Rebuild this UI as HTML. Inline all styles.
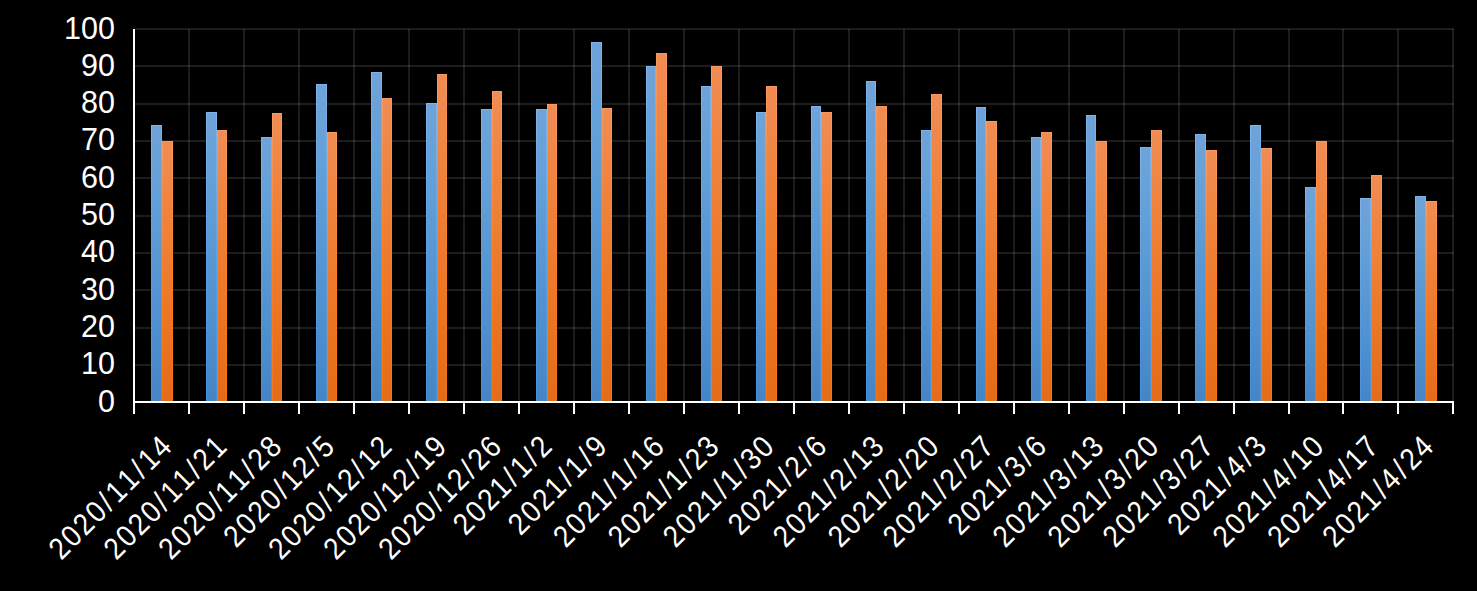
<!DOCTYPE html><html><head><meta charset="utf-8"><style>
html,body{margin:0;padding:0;background:#000;overflow:hidden;}
svg{display:block;}
text{font-family:"Liberation Sans",sans-serif;fill:#fff;}
</style></head><body>
<svg width="1477" height="591" viewBox="0 0 1477 591">
<defs><linearGradient id="gb" x1="0" y1="0" x2="0" y2="1"><stop offset="0" stop-color="#6fa3d8"/><stop offset="0.25" stop-color="#64a0d8"/><stop offset="0.72" stop-color="#4f90cf"/><stop offset="1" stop-color="#4585c5"/></linearGradient><linearGradient id="go" x1="0" y1="0" x2="0" y2="1"><stop offset="0" stop-color="#f08c54"/><stop offset="0.25" stop-color="#f0843e"/><stop offset="0.72" stop-color="#eb7421"/><stop offset="1" stop-color="#e46c19"/></linearGradient><linearGradient id="gbb" x1="0" y1="0" x2="0" y2="1"><stop offset="0" stop-color="#7eb4ec"/><stop offset="0.5" stop-color="#5aa0e4"/><stop offset="1" stop-color="#4690da"/></linearGradient><linearGradient id="gob" x1="0" y1="0" x2="0" y2="1"><stop offset="0" stop-color="#f89a60"/><stop offset="0.5" stop-color="#f98026"/><stop offset="1" stop-color="#f27418"/></linearGradient></defs>
<rect x="0" y="0" width="1477" height="591" fill="#000"/>
<g fill="#fff" fill-opacity="0.11"><rect x="135" y="364" width="1319" height="2"/><rect x="135" y="327" width="1319" height="2"/><rect x="135" y="289" width="1319" height="2"/><rect x="135" y="252" width="1319" height="2"/><rect x="135" y="215" width="1319" height="2"/><rect x="135" y="177" width="1319" height="2"/><rect x="135" y="140" width="1319" height="2"/><rect x="135" y="103" width="1319" height="2"/><rect x="135" y="65" width="1319" height="2"/><rect x="135" y="28" width="1319" height="2"/><rect x="188" y="29" width="2" height="373"/><rect x="243" y="29" width="2" height="373"/><rect x="298" y="29" width="2" height="373"/><rect x="353" y="29" width="2" height="373"/><rect x="408" y="29" width="2" height="373"/><rect x="463" y="29" width="2" height="373"/><rect x="518" y="29" width="2" height="373"/><rect x="573" y="29" width="2" height="373"/><rect x="628" y="29" width="2" height="373"/><rect x="683" y="29" width="2" height="373"/><rect x="738" y="29" width="2" height="373"/><rect x="793" y="29" width="2" height="373"/><rect x="848" y="29" width="2" height="373"/><rect x="903" y="29" width="2" height="373"/><rect x="958" y="29" width="2" height="373"/><rect x="1013" y="29" width="2" height="373"/><rect x="1068" y="29" width="2" height="373"/><rect x="1123" y="29" width="2" height="373"/><rect x="1178" y="29" width="2" height="373"/><rect x="1233" y="29" width="2" height="373"/><rect x="1288" y="29" width="2" height="373"/><rect x="1342" y="29" width="2" height="373"/><rect x="1397" y="29" width="2" height="373"/><rect x="1452" y="29" width="2" height="373"/></g>
<g><rect x="151" y="125" width="11" height="277" fill="url(#gbb)"/><rect x="152" y="126" width="9" height="276" fill="url(#gb)"/><rect x="162" y="141" width="11" height="261" fill="url(#gob)"/><rect x="163" y="142" width="9" height="260" fill="url(#go)"/><rect x="206" y="112" width="11" height="290" fill="url(#gbb)"/><rect x="207" y="113" width="9" height="289" fill="url(#gb)"/><rect x="217" y="130" width="10" height="272" fill="url(#gob)"/><rect x="218" y="131" width="8" height="271" fill="url(#go)"/><rect x="261" y="137" width="11" height="265" fill="url(#gbb)"/><rect x="262" y="138" width="9" height="264" fill="url(#gb)"/><rect x="272" y="113" width="10" height="289" fill="url(#gob)"/><rect x="273" y="114" width="8" height="288" fill="url(#go)"/><rect x="316" y="84" width="11" height="318" fill="url(#gbb)"/><rect x="317" y="85" width="9" height="317" fill="url(#gb)"/><rect x="327" y="132" width="10" height="270" fill="url(#gob)"/><rect x="328" y="133" width="8" height="269" fill="url(#go)"/><rect x="371" y="72" width="11" height="330" fill="url(#gbb)"/><rect x="372" y="73" width="9" height="329" fill="url(#gb)"/><rect x="382" y="98" width="10" height="304" fill="url(#gob)"/><rect x="383" y="99" width="8" height="303" fill="url(#go)"/><rect x="426" y="103" width="11" height="299" fill="url(#gbb)"/><rect x="427" y="104" width="9" height="298" fill="url(#gb)"/><rect x="437" y="74" width="10" height="328" fill="url(#gob)"/><rect x="438" y="75" width="8" height="327" fill="url(#go)"/><rect x="481" y="109" width="11" height="293" fill="url(#gbb)"/><rect x="482" y="110" width="9" height="292" fill="url(#gb)"/><rect x="492" y="91" width="10" height="311" fill="url(#gob)"/><rect x="493" y="92" width="8" height="310" fill="url(#go)"/><rect x="536" y="109" width="11" height="293" fill="url(#gbb)"/><rect x="537" y="110" width="9" height="292" fill="url(#gb)"/><rect x="547" y="104" width="10" height="298" fill="url(#gob)"/><rect x="548" y="105" width="8" height="297" fill="url(#go)"/><rect x="591" y="42" width="11" height="360" fill="url(#gbb)"/><rect x="592" y="43" width="9" height="359" fill="url(#gb)"/><rect x="602" y="108" width="10" height="294" fill="url(#gob)"/><rect x="603" y="109" width="8" height="293" fill="url(#go)"/><rect x="646" y="66" width="10" height="336" fill="url(#gbb)"/><rect x="647" y="67" width="8" height="335" fill="url(#gb)"/><rect x="656" y="53" width="11" height="349" fill="url(#gob)"/><rect x="657" y="54" width="9" height="348" fill="url(#go)"/><rect x="701" y="86" width="10" height="316" fill="url(#gbb)"/><rect x="702" y="87" width="8" height="315" fill="url(#gb)"/><rect x="711" y="66" width="11" height="336" fill="url(#gob)"/><rect x="712" y="67" width="9" height="335" fill="url(#go)"/><rect x="756" y="112" width="10" height="290" fill="url(#gbb)"/><rect x="757" y="113" width="8" height="289" fill="url(#gb)"/><rect x="766" y="86" width="11" height="316" fill="url(#gob)"/><rect x="767" y="87" width="9" height="315" fill="url(#go)"/><rect x="811" y="106" width="10" height="296" fill="url(#gbb)"/><rect x="812" y="107" width="8" height="295" fill="url(#gb)"/><rect x="821" y="112" width="11" height="290" fill="url(#gob)"/><rect x="822" y="113" width="9" height="289" fill="url(#go)"/><rect x="866" y="81" width="10" height="321" fill="url(#gbb)"/><rect x="867" y="82" width="8" height="320" fill="url(#gb)"/><rect x="876" y="106" width="11" height="296" fill="url(#gob)"/><rect x="877" y="107" width="9" height="295" fill="url(#go)"/><rect x="921" y="130" width="10" height="272" fill="url(#gbb)"/><rect x="922" y="131" width="8" height="271" fill="url(#gb)"/><rect x="931" y="94" width="11" height="308" fill="url(#gob)"/><rect x="932" y="95" width="9" height="307" fill="url(#go)"/><rect x="976" y="107" width="10" height="295" fill="url(#gbb)"/><rect x="977" y="108" width="8" height="294" fill="url(#gb)"/><rect x="986" y="121" width="11" height="281" fill="url(#gob)"/><rect x="987" y="122" width="9" height="280" fill="url(#go)"/><rect x="1031" y="137" width="10" height="265" fill="url(#gbb)"/><rect x="1032" y="138" width="8" height="264" fill="url(#gb)"/><rect x="1041" y="132" width="11" height="270" fill="url(#gob)"/><rect x="1042" y="133" width="9" height="269" fill="url(#go)"/><rect x="1086" y="115" width="10" height="287" fill="url(#gbb)"/><rect x="1087" y="116" width="8" height="286" fill="url(#gb)"/><rect x="1096" y="141" width="11" height="261" fill="url(#gob)"/><rect x="1097" y="142" width="9" height="260" fill="url(#go)"/><rect x="1140" y="147" width="11" height="255" fill="url(#gbb)"/><rect x="1141" y="148" width="9" height="254" fill="url(#gb)"/><rect x="1151" y="130" width="11" height="272" fill="url(#gob)"/><rect x="1152" y="131" width="9" height="271" fill="url(#go)"/><rect x="1195" y="134" width="11" height="268" fill="url(#gbb)"/><rect x="1196" y="135" width="9" height="267" fill="url(#gb)"/><rect x="1206" y="150" width="11" height="252" fill="url(#gob)"/><rect x="1207" y="151" width="9" height="251" fill="url(#go)"/><rect x="1250" y="125" width="11" height="277" fill="url(#gbb)"/><rect x="1251" y="126" width="9" height="276" fill="url(#gb)"/><rect x="1261" y="148" width="11" height="254" fill="url(#gob)"/><rect x="1262" y="149" width="9" height="253" fill="url(#go)"/><rect x="1305" y="187" width="11" height="215" fill="url(#gbb)"/><rect x="1306" y="188" width="9" height="214" fill="url(#gb)"/><rect x="1316" y="141" width="11" height="261" fill="url(#gob)"/><rect x="1317" y="142" width="9" height="260" fill="url(#go)"/><rect x="1360" y="198" width="11" height="204" fill="url(#gbb)"/><rect x="1361" y="199" width="9" height="203" fill="url(#gb)"/><rect x="1371" y="175" width="11" height="227" fill="url(#gob)"/><rect x="1372" y="176" width="9" height="226" fill="url(#go)"/><rect x="1415" y="196" width="11" height="206" fill="url(#gbb)"/><rect x="1416" y="197" width="9" height="205" fill="url(#gb)"/><rect x="1426" y="201" width="11" height="201" fill="url(#gob)"/><rect x="1427" y="202" width="9" height="200" fill="url(#go)"/></g>
<g fill="#fff"><rect x="133" y="29" width="2" height="385"/><rect x="133" y="401" width="1321" height="2"/><rect x="188" y="401" width="2" height="13"/><rect x="243" y="401" width="2" height="13"/><rect x="298" y="401" width="2" height="13"/><rect x="353" y="401" width="2" height="13"/><rect x="408" y="401" width="2" height="13"/><rect x="463" y="401" width="2" height="13"/><rect x="518" y="401" width="2" height="13"/><rect x="573" y="401" width="2" height="13"/><rect x="628" y="401" width="2" height="13"/><rect x="683" y="401" width="2" height="13"/><rect x="738" y="401" width="2" height="13"/><rect x="793" y="401" width="2" height="13"/><rect x="848" y="401" width="2" height="13"/><rect x="903" y="401" width="2" height="13"/><rect x="958" y="401" width="2" height="13"/><rect x="1013" y="401" width="2" height="13"/><rect x="1068" y="401" width="2" height="13"/><rect x="1123" y="401" width="2" height="13"/><rect x="1178" y="401" width="2" height="13"/><rect x="1233" y="401" width="2" height="13"/><rect x="1288" y="401" width="2" height="13"/><rect x="1342" y="401" width="2" height="13"/><rect x="1397" y="401" width="2" height="13"/><rect x="1452" y="401" width="2" height="13"/></g>
<text x="115" y="400.5" text-anchor="end" dominant-baseline="central" font-size="30.5">0</text><text x="115" y="363.2" text-anchor="end" dominant-baseline="central" font-size="30.5">10</text><text x="115" y="325.9" text-anchor="end" dominant-baseline="central" font-size="30.5">20</text><text x="115" y="288.6" text-anchor="end" dominant-baseline="central" font-size="30.5">30</text><text x="115" y="251.3" text-anchor="end" dominant-baseline="central" font-size="30.5">40</text><text x="115" y="214.0" text-anchor="end" dominant-baseline="central" font-size="30.5">50</text><text x="115" y="176.7" text-anchor="end" dominant-baseline="central" font-size="30.5">60</text><text x="115" y="139.4" text-anchor="end" dominant-baseline="central" font-size="30.5">70</text><text x="115" y="102.1" text-anchor="end" dominant-baseline="central" font-size="30.5">80</text><text x="115" y="64.8" text-anchor="end" dominant-baseline="central" font-size="30.5">90</text><text x="115" y="27.5" text-anchor="end" dominant-baseline="central" font-size="30.5">100</text><text transform="translate(60.50,561.67) rotate(-45) scale(0.9,1)" x="1.07 20.18 39.30 58.41 78.60 90.30 109.41 129.60 141.30 160.41" y="0" font-size="30.5">2020/11/14</text><text transform="translate(115.46,561.67) rotate(-45) scale(0.9,1)" x="1.07 20.18 39.30 58.41 78.60 90.30 109.41 129.60 141.30 160.41" y="0" font-size="30.5">2020/11/21</text><text transform="translate(170.41,561.67) rotate(-45) scale(0.9,1)" x="1.07 20.18 39.30 58.41 78.60 90.30 109.41 129.60 141.30 160.41" y="0" font-size="30.5">2020/11/28</text><text transform="translate(235.23,549.37) rotate(-45) scale(0.9,1)" x="1.07 20.18 39.30 58.41 78.60 90.30 109.41 129.60 141.30" y="0" font-size="30.5">2020/12/5</text><text transform="translate(280.33,561.67) rotate(-45) scale(0.9,1)" x="1.07 20.18 39.30 58.41 78.60 90.30 109.41 129.60 141.30 160.41" y="0" font-size="30.5">2020/12/12</text><text transform="translate(335.29,561.67) rotate(-45) scale(0.9,1)" x="1.07 20.18 39.30 58.41 78.60 90.30 109.41 129.60 141.30 160.41" y="0" font-size="30.5">2020/12/19</text><text transform="translate(390.25,561.67) rotate(-45) scale(0.9,1)" x="1.07 20.18 39.30 58.41 78.60 90.30 109.41 129.60 141.30 160.41" y="0" font-size="30.5">2020/12/26</text><text transform="translate(464.92,537.07) rotate(-45) scale(0.9,1)" x="1.07 20.18 39.30 58.41 78.60 90.30 110.49 122.18" y="0" font-size="30.5">2021/1/2</text><text transform="translate(519.88,537.07) rotate(-45) scale(0.9,1)" x="1.07 20.18 39.30 58.41 78.60 90.30 110.49 122.18" y="0" font-size="30.5">2021/1/9</text><text transform="translate(564.98,549.37) rotate(-45) scale(0.9,1)" x="1.07 20.18 39.30 58.41 78.60 90.30 110.49 122.18 141.30" y="0" font-size="30.5">2021/1/16</text><text transform="translate(619.94,549.37) rotate(-45) scale(0.9,1)" x="1.07 20.18 39.30 58.41 78.60 90.30 110.49 122.18 141.30" y="0" font-size="30.5">2021/1/23</text><text transform="translate(674.90,549.37) rotate(-45) scale(0.9,1)" x="1.07 20.18 39.30 58.41 78.60 90.30 110.49 122.18 141.30" y="0" font-size="30.5">2021/1/30</text><text transform="translate(739.71,537.07) rotate(-45) scale(0.9,1)" x="1.07 20.18 39.30 58.41 78.60 90.30 110.49 122.18" y="0" font-size="30.5">2021/2/6</text><text transform="translate(784.81,549.37) rotate(-45) scale(0.9,1)" x="1.07 20.18 39.30 58.41 78.60 90.30 110.49 122.18 141.30" y="0" font-size="30.5">2021/2/13</text><text transform="translate(839.77,549.37) rotate(-45) scale(0.9,1)" x="1.07 20.18 39.30 58.41 78.60 90.30 110.49 122.18 141.30" y="0" font-size="30.5">2021/2/20</text><text transform="translate(894.73,549.37) rotate(-45) scale(0.9,1)" x="1.07 20.18 39.30 58.41 78.60 90.30 110.49 122.18 141.30" y="0" font-size="30.5">2021/2/27</text><text transform="translate(959.54,537.07) rotate(-45) scale(0.9,1)" x="1.07 20.18 39.30 58.41 78.60 90.30 110.49 122.18" y="0" font-size="30.5">2021/3/6</text><text transform="translate(1004.65,549.37) rotate(-45) scale(0.9,1)" x="1.07 20.18 39.30 58.41 78.60 90.30 110.49 122.18 141.30" y="0" font-size="30.5">2021/3/13</text><text transform="translate(1059.60,549.37) rotate(-45) scale(0.9,1)" x="1.07 20.18 39.30 58.41 78.60 90.30 110.49 122.18 141.30" y="0" font-size="30.5">2021/3/20</text><text transform="translate(1114.56,549.37) rotate(-45) scale(0.9,1)" x="1.07 20.18 39.30 58.41 78.60 90.30 110.49 122.18 141.30" y="0" font-size="30.5">2021/3/27</text><text transform="translate(1179.38,537.07) rotate(-45) scale(0.9,1)" x="1.07 20.18 39.30 58.41 78.60 90.30 110.49 122.18" y="0" font-size="30.5">2021/4/3</text><text transform="translate(1224.48,549.37) rotate(-45) scale(0.9,1)" x="1.07 20.18 39.30 58.41 78.60 90.30 110.49 122.18 141.30" y="0" font-size="30.5">2021/4/10</text><text transform="translate(1279.44,549.37) rotate(-45) scale(0.9,1)" x="1.07 20.18 39.30 58.41 78.60 90.30 110.49 122.18 141.30" y="0" font-size="30.5">2021/4/17</text><text transform="translate(1334.40,549.37) rotate(-45) scale(0.9,1)" x="1.07 20.18 39.30 58.41 78.60 90.30 110.49 122.18 141.30" y="0" font-size="30.5">2021/4/24</text>
</svg></body></html>
